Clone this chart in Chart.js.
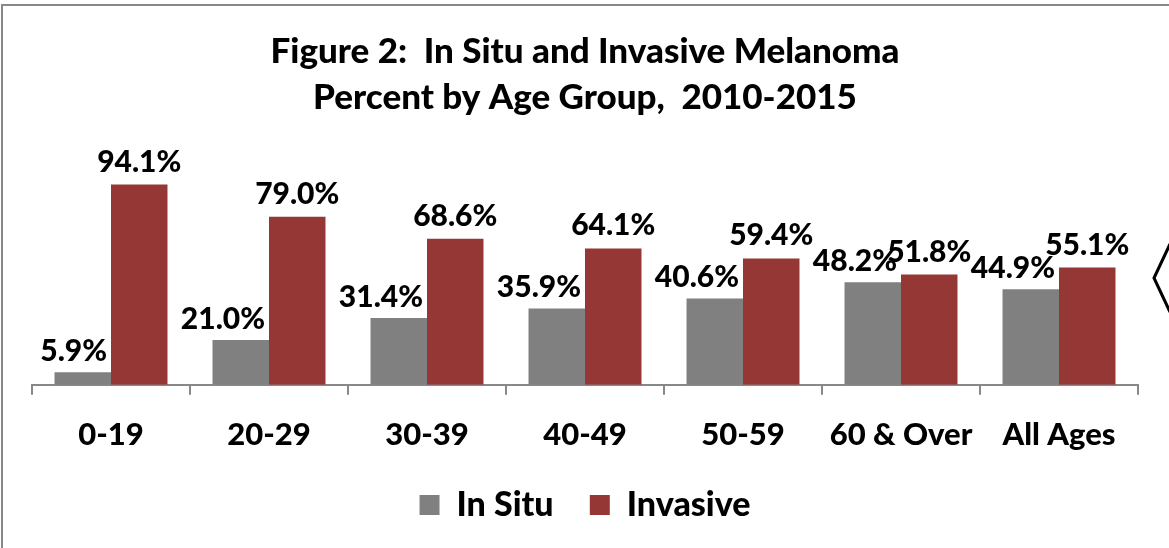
<!DOCTYPE html>
<html lang="en">
<head>
  <meta charset="UTF-8">
  <title>Melanoma by Age Group</title>
  <script src="https://cdn.jsdelivr.net/npm/chart.js"></script>
  <style>
    html, body { margin: 0; padding: 0; background: #fff; }
    #wrap { position: relative; width: 1169px; height: 548px; }
  </style>
</head>
<body>
  <div id="wrap">
    <canvas id="melanomaChart"></canvas>
  </div>

  <script>
    const ageGroups = ['0-19', '20-29', '30-39', '40-49', '50-59', '60 & Over', 'All Ages'];
    const inSitu = [5.9, 21.0, 31.4, 35.9, 40.6, 48.2, 44.9];
    const invasive = [94.1, 79.0, 68.6, 64.1, 59.4, 51.8, 55.1];
    const titleLines = ['Figure 2:  In Situ and Invasive Melanoma', 'Percent by Age Group,  2010-2015'];

    const FONT = 'Lato, Carlito, Calibri, "Open Sans", sans-serif';
    const WEIGHT = '900';

    // frame lines + the bit of shape poking in from the right edge
    const framePlugin = {
      id: 'frame',
      beforeDraw(chart) {
        const ctx = chart.ctx;
        ctx.save();
        ctx.fillStyle = '#fff';
        ctx.fillRect(0, 0, chart.width, chart.height);
        ctx.strokeStyle = '#888';
        ctx.lineWidth = 2;
        ctx.beginPath();
        ctx.moveTo(2, chart.height);
        ctx.lineTo(2, 5);
        ctx.lineTo(chart.width, 5);
        ctx.stroke();
        ctx.strokeStyle = '#000';
        ctx.lineWidth = 3;
        ctx.beginPath();
        ctx.moveTo(chart.width + 1, 244);
        ctx.lineTo(1154, 278);
        ctx.lineTo(chart.width + 1, 312);
        ctx.stroke();
        ctx.restore();
      }
    };

    // value labels over the bars
    const valueLabels = {
      id: 'valueLabels',
      afterDatasetsDraw(chart) {
        const ctx = chart.ctx;
        ctx.save();
        ctx.font = WEIGHT + ' 30px ' + FONT;
        ctx.fillStyle = '#000';
        ctx.textBaseline = 'alphabetic';
        chart.data.datasets.forEach((ds, i) => {
          chart.getDatasetMeta(i).data.forEach((bar, j) => {
            const txt = ds.data[j].toFixed(1) + '%';
            if (i === 0) {
              ctx.textAlign = 'right';
              ctx.fillText(txt, bar.x + bar.width / 2 - 4, bar.y - 11);
            } else {
              ctx.textAlign = 'center';
              ctx.fillText(txt, bar.x, bar.y - 13);
            }
          });
        });
        ctx.restore();
      }
    };

    new Chart(document.getElementById('melanomaChart').getContext('2d'), {
      type: 'bar',
      data: {
        labels: ageGroups,
        datasets: [
          { label: 'In Situ', data: inSitu, backgroundColor: '#808080' },
          { label: 'Invasive', data: invasive, backgroundColor: '#953735' }
        ]
      },
      options: {
        responsive: true,
        maintainAspectRatio: false,
        animation: false,
        datasets: { bar: { barPercentage: 1.0, categoryPercentage: 0.715 } },
        layout: { padding: { left: 32, right: 31, top: 0, bottom: 16 } },
        plugins: {
          tooltip: { enabled: false },
          title: {
            display: true,
            text: titleLines,
            color: '#000',
            font: { family: FONT, size: 35, weight: WEIGHT, lineHeight: 1.314 },
            padding: { top: 29, bottom: 51 }
          },
          legend: {
            position: 'bottom',
            labels: {
              color: '#000',
              font: { family: FONT, size: 34, weight: WEIGHT },
              boxWidth: 20,
              boxHeight: 20,
              padding: 12,
              generateLabels(chart) {
                const items = Chart.defaults.plugins.legend.labels.generateLabels(chart);
                // a bit more room between the two entries
                items.forEach((it, k) => { if (k < items.length - 1) it.text += '   '; });
                return items;
              }
            }
          }
        },
        scales: {
          x: {
            grid: {
              display: true,
              drawOnChartArea: false,
              drawTicks: true,
              tickLength: 10,
              color: '#888',
              lineWidth: 2
            },
            border: { display: true, color: '#888', width: 2 },
            ticks: {
              color: '#000',
              font: { family: FONT, size: 31, weight: WEIGHT },
              padding: 22,
              maxRotation: 0
            }
          },
          y: {
            display: false,
            min: 0,
            max: 100
          }
        }
      },
      plugins: [framePlugin, valueLabels]
    });
  </script>
</body>
</html>
